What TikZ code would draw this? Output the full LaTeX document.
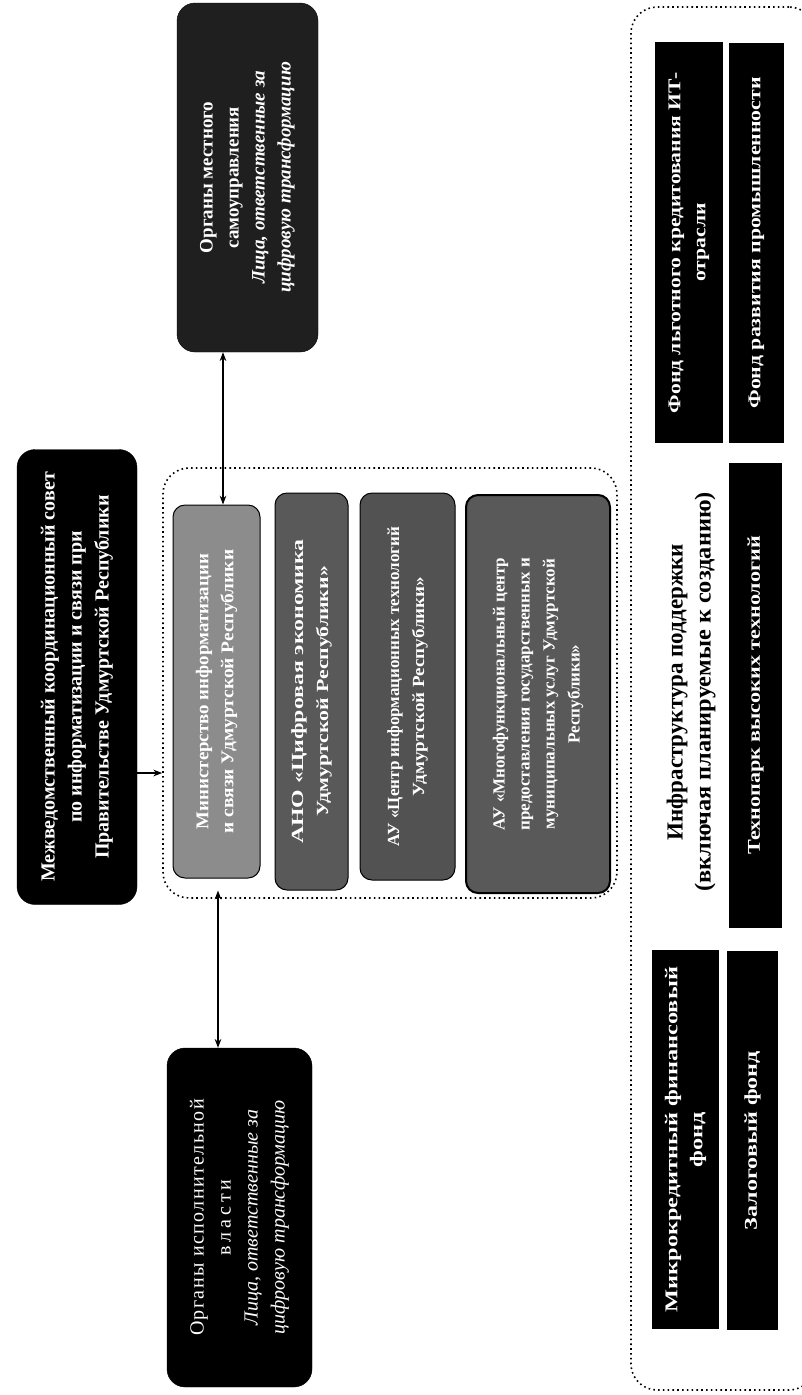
\documentclass[tikz,border=0pt]{standalone}
\usepackage{fontspec}
\usepackage{graphicx}
\setmainfont{Liberation Serif}
\usetikzlibrary{arrows.meta,calc}
\newcommand{\sx}[2]{\scalebox{#1}[1]{#2}}
\begin{document}
\begin{tikzpicture}[x=1pt,y=-1pt,
  bigbox/.style={draw=black, fill=black, text=white, rounded corners=18pt, rotate=90,
    align=center, inner sep=0pt},
  midbox/.style={draw=black, line width=1pt, rounded corners=12pt, rotate=90, text=white,
    align=center, inner sep=0pt, font=\bfseries\fontsize{17}{25}\selectfont},
  rbox/.style={fill=black, text=white, rotate=90, align=center, inner sep=0pt,
    font=\bfseries\fontsize{18}{25}\selectfont},
  dotframe/.style={draw=black, line width=1.6pt, dash pattern=on 1.6pt off 3.2pt,
    rounded corners=26pt, inner sep=0pt},
  dbl/.style={Stealth-Stealth, line width=1.3pt},
  arr/.style={-Stealth, line width=1.3pt}]
\useasboundingbox (0,0) rectangle (802,1395);
\clip (0,0) rectangle (802,1395);
\fill[white] (0,0) rectangle (802,1395);

% council
\node[bigbox, minimum width=455pt, minimum height=120pt,
  font=\bfseries\fontsize{20}{27}\selectfont] (council) at (77,677)
  {Межведомственный координационный совет\\по информатизации и связи при\\Правительстве Удмуртской Республики};

% local government
\node[bigbox, fill=black!88, minimum width=349pt, minimum height=141pt,
  font=\bfseries\fontsize{19}{26}\selectfont] (local) at (247.5,177.5)
  {Органы местного\\самоуправления\\\textit{Лица, ответственные за}\\\textit{цифровую трансформацию}};

% executive
\node[bigbox, minimum width=339pt, minimum height=145pt,
  font=\fontsize{20}{27}\selectfont] (exec) at (239.5,1217.5)
  {{\addfontfeature{LetterSpace=7}Органы исполнительной}\\{\addfontfeature{LetterSpace=20}власти}\\\textit{Лица, ответственные за}\\\textit{цифровую трансформацию}};

% middle container
\node[dotframe, minimum width=454pt, minimum height=430pt] (cont) at (390,683) {};

\node[midbox, fill=black!45, minimum width=373pt, minimum height=87pt,
  font=\bfseries\fontsize{18}{25}\selectfont] (b1) at (216.5,691.5)
  {\sx{1.05}{Министерство информатизации}\\\sx{1.08}{и связи Удмуртской Республики}};
\node[midbox, fill=black!65, minimum width=397pt, minimum height=73pt] (b2) at (311.5,691.5)
  {\sx{1.4}{АНО «Цифровая экономика}\\\sx{1.28}{Удмуртской Республики»}};
\node[midbox, fill=black!68, minimum width=387pt, minimum height=95pt] (b3) at (407.5,686.5)
  {АУ «Центр информационных технологий\\\sx{1.12}{Удмуртской Республики»}};
\node[midbox, fill=black!65, line width=2pt, minimum width=398pt, minimum height=144pt] (b4) at (538,694)
  {АУ «Многофункциональный центр\\предоставления государственных и\\муниципальных услуг Удмуртской\\Республики»};

% connectors
\coordinate (xa) at (223,0);
\coordinate (xb) at (218,0);
\coordinate (c1) at ([yshift=-96pt]council.south);
\draw[arr] (c1) -- (c1 -| cont.west);
\draw[dbl] (local.west -| xa) -- (b1.east -| xa);
\draw[dbl] ([yshift=-12pt]b1.west -| xb) -- (exec.east -| xb);

% right container
\node[dotframe, minimum width=184pt, minimum height=1383pt] (infra) at (723,698.5) {};

\node[rbox, minimum width=401pt, minimum height=68pt] (r1) at (689,242.5)
  {\sx{1.2}{Фонд льготного кредитования ИТ-}\\\sx{1.2}{отрасли}};
\node[rbox, minimum width=400pt, minimum height=55pt] (r2) at (756.5,243)
  {\sx{1.21}{Фонд развития промышленности}};
\node[rbox, minimum width=465pt, minimum height=53pt] (r3) at (755.5,695.5)
  {\sx{1.23}{Технопарк высоких технологий}};
\node[rbox, minimum width=379pt, minimum height=67pt] (r4) at (685.5,1139.5)
  {\sx{1.35}{Микрокредитный финансовый}\\\sx{1.35}{фонд}};
\node[rbox, minimum width=379pt, minimum height=51pt] (r5) at (752.5,1140.5)
  {\sx{1.34}{Залоговый фонд}};

\node[rotate=90, align=center, inner sep=0pt, font=\bfseries\fontsize{23}{28}\selectfont]
  (title) at (691,692) {Инфраструктура поддержки\\\sx{1.06}{(включая планируемые к созданию)}};
\end{tikzpicture}
\end{document}
